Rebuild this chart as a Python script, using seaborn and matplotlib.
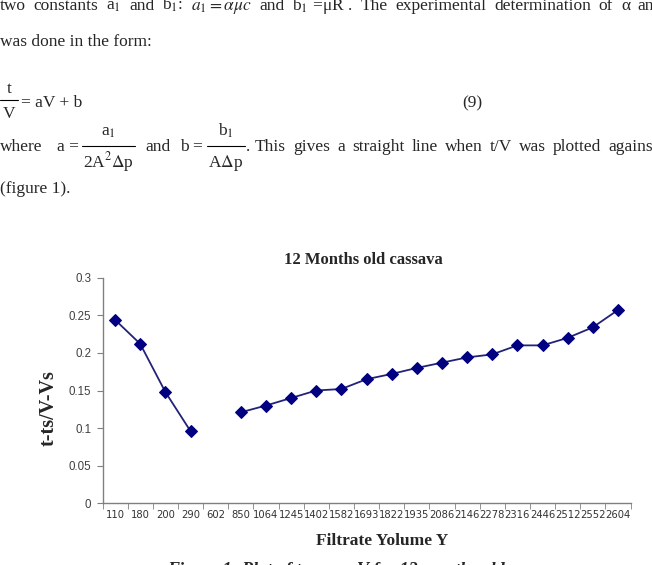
import numpy as np
import pandas as pd
import seaborn as sns
import matplotlib.pyplot as plt

# data
volumes = ["110", "180", "200", "290", "602", "850", "1064", "1245", "1402", "1582",
           "1693", "1822", "1935", "2086", "2146", "2278", "2316", "2446", "2512",
           "2552", "2604"]
ratio = [0.244, 0.212, 0.148, 0.096, np.nan, 0.121, 0.130, 0.140, 0.150, 0.152,
         0.165, 0.172, 0.180, 0.187, 0.194, 0.198, 0.210, 0.210, 0.220,
         0.234, 0.257]
segment = [0, 0, 0, 0, 0, 1, 1, 1, 1, 1, 1, 1, 1, 1, 1, 1, 1, 1, 1, 1, 1]
yticks = [0, 0.05, 0.1, 0.15, 0.2, 0.25, 0.3]
ytick_labels = ["0", "0.05", "0.1", "0.15", "0.2", "0.25", "0.3"]

sns.set_style("white")
plt.rcParams['mathtext.fontset'] = 'stix'
plt.rcParams['font.family'] = ['Liberation Serif', 'DejaVu Serif']

W, H = 652, 565
df = pd.DataFrame({"pos": range(len(volumes)), "ratio": ratio, "seg": segment})
df = df.dropna()

fig = plt.figure(figsize=(6.52, 5.65), dpi=100)
fs = 12.5


def put(x, y, s, **kw):
    kw.setdefault('fontsize', fs)
    kw.setdefault('va', 'baseline')
    return fig.text(x / W, 1 - y / H, s, **kw)


def bar(x0, x1, y):
    fig.add_artist(plt.Line2D([x0 / W, x1 / W], [1 - y / H] * 2, color='black', lw=0.8))


def justify(words, y, x0, x1):
    # spread words between x0 and x1 like a justified paragraph line
    r = fig.canvas.get_renderer()
    texts = [put(0, y, w) for w in words]
    widths = [t.get_window_extent(r).width for t in texts]
    gap = (x1 - x0 - sum(widths)) / (len(words) - 1)
    x = x0
    for t, w in zip(texts, widths):
        t.set_x(x / W)
        x += w + gap


# page text above the chart
justify(["two", "constants", "a$_1$", "and", "b$_1$:", r"$a_1 = \alpha\mu c$", "and",
         "b$_1$ =μR .", "The", "experimental", "determination", "of", "α", "and"],
        10, 0, 663)
put(0, 46, "was done in the form:")

# equation (9)
put(9, 89, "t", ha='center', va='center')
bar(0, 18, 100)
put(9, 114, "V", ha='center', va='center')
put(21, 103, "= aV + b", va='center')
put(462, 103, "(9)", va='center')

put(0, 151, "where")
put(57, 151, "a =")
put(108, 136, "a$_1$", ha='center')
bar(82, 135, 146)
put(108, 167, r"2A$^2\Delta$p", ha='center')
put(145, 151, "and")
put(180, 151, "b =")
put(226, 136, "b$_1$", ha='center')
bar(207, 245, 146)
put(226, 167, r"A$\Delta$p", ha='center')
put(246, 151, ".")
justify(["This", "gives", "a", "straight", "line", "when", "t/V", "was", "plotted", "against"],
        151, 255, 658)
put(0, 193, "(figure 1).")

# chart
ax = fig.add_axes([102.5 / W, 1 - 503.3 / H, (630.5 - 102.5) / W, (503.3 - 277.7) / H])
sns.lineplot(data=df, x="pos", y="ratio", units="seg", estimator=None, ax=ax,
             color="#22227a", linewidth=1.3, marker="D", markersize=6,
             markerfacecolor="#000080", markeredgecolor="#000080")

ax.set_xlim(-0.5, len(volumes) - 0.5)
ax.set_ylim(0, 0.3)
ax.set_xticks(range(len(volumes)))
ax.set_xticklabels(volumes, fontsize=7.2, family='DejaVu Sans', color="#333333")
ax.set_xticks(np.arange(-0.5, len(volumes), 1.0), minor=True)
ax.tick_params(axis='x', which='major', length=0, pad=5)
ax.tick_params(axis='x', which='minor', length=4, direction='out', color='#808080', bottom=True)
ax.set_yticks(yticks)
ax.set_yticklabels(ytick_labels, fontsize=8.3, family='Liberation Sans', color="#404040")
ax.tick_params(axis='y', length=4, direction='out', color='#808080', left=True, pad=4)

for s in ['top', 'right']:
    ax.spines[s].set_visible(False)
for s in ['left', 'bottom']:
    ax.spines[s].set_color('#808080')
    ax.spines[s].set_linewidth(1)

ax.set_xlabel("Filtrate Yolume Y", fontweight='bold', fontsize=12.5)
ax.xaxis.set_label_coords((382 - 102.5) / 528, -0.13)
ax.set_ylabel("t-ts/V-Vs", fontweight='bold', fontsize=14.5)
ax.yaxis.set_label_coords(-0.083, 0.42)
ax.set_title("12 Months old cassava", fontweight='bold', fontsize=12, pad=10, x=(363 - 102.5) / 528)

put(167, 575, "Figure 1: Plot of t versus V for 12 months old cassava", style='italic',
    fontweight='bold', fontsize=13)

fig.savefig("out.png", dpi=100)
